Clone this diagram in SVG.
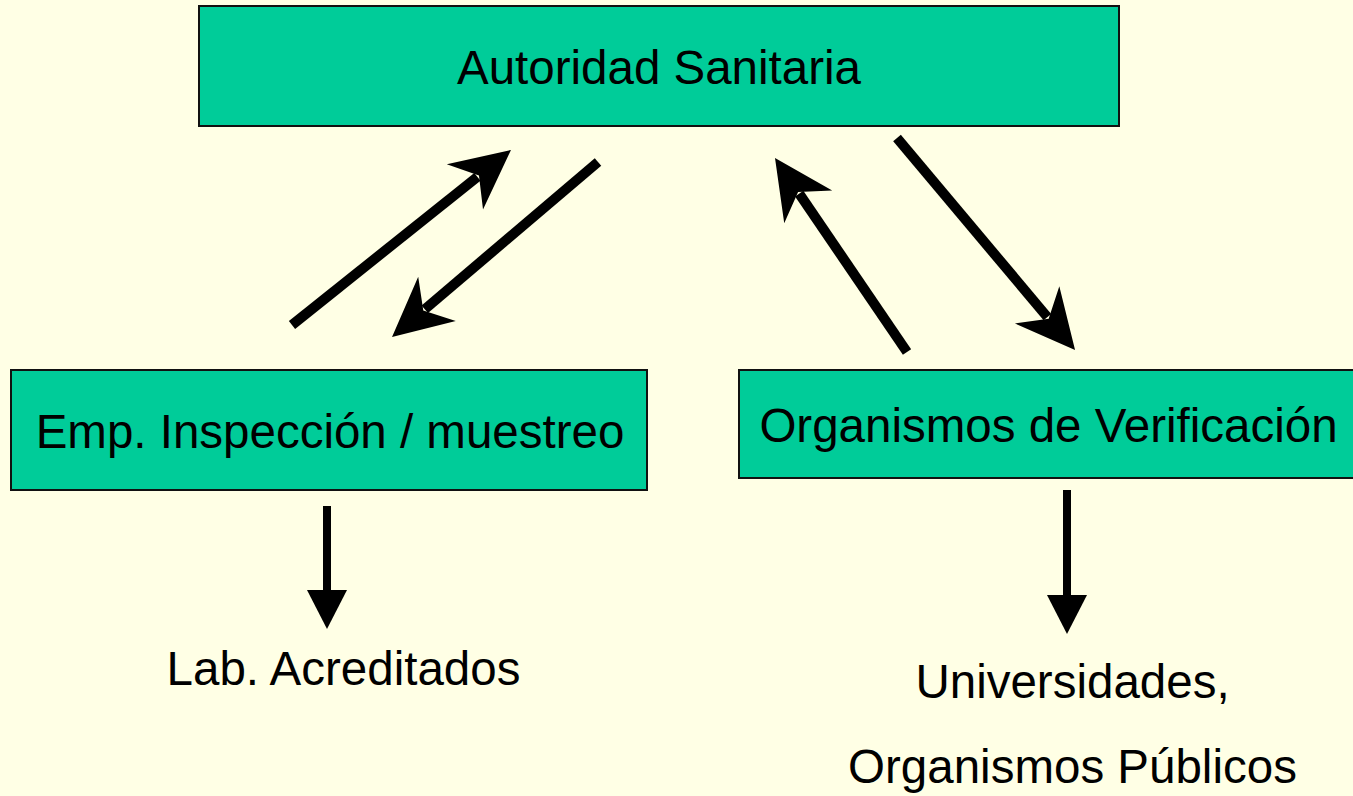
<svg xmlns="http://www.w3.org/2000/svg" width="1353" height="796" viewBox="0 0 1353 796">
  <style>
    .box { fill: #00CC99; stroke: #111111; stroke-width: 2; }
    .lbl { font-family: "Liberation Sans", Arial, sans-serif; font-size: 47.5px; fill: #000000; text-anchor: middle; }
    .diag { stroke: #000000; stroke-width: 10; fill: none; marker-end: url(#stealth); }
    .vert { stroke: #000000; stroke-width: 8; fill: none; marker-end: url(#tri); }
  </style>
  <defs>
    <marker id="stealth" markerUnits="userSpaceOnUse" viewBox="-70 -35 140 70" markerWidth="140" markerHeight="70" refX="-43" refY="0" orient="auto">
      <path d="M0,0 L-59,-29 L-41,0 L-59,29 Z" fill="#000000"/>
    </marker>
    <marker id="tri" markerUnits="userSpaceOnUse" viewBox="-50 -25 100 50" markerWidth="100" markerHeight="50" refX="-36" refY="0" orient="auto">
      <path d="M0,0 L-39,-20 L-39,20 Z" fill="#000000"/>
    </marker>
  </defs>
  <rect x="0" y="0" width="1353" height="796" fill="#FFFFE5"/>

  <g id="autoridad">
    <rect class="box" x="199" y="6" width="920" height="120"/>
    <text class="lbl" x="659" y="84">Autoridad Sanitaria</text>
  </g>
  <g id="emp">
    <rect class="box" x="11" y="370" width="636" height="120"/>
    <text class="lbl" x="330" y="448">Emp. Inspección / muestreo</text>
  </g>
  <g id="organismos">
    <rect class="box" x="739" y="370" width="630" height="108"/>
    <text class="lbl" x="1048.5" y="442">Organismos de Verificación</text>
  </g>
  <g id="lab">
    <text class="lbl" x="343.5" y="685">Lab. Acreditados</text>
  </g>
  <g id="universidades">
    <text class="lbl" x="1072.5" y="698">Universidades,</text>
    <text class="lbl" x="1072.5" y="783">Organismos Públicos</text>
  </g>

  <g id="connectors">
    <line class="diag" x1="292" y1="325" x2="477.4" y2="176.8"/>
    <line class="diag" x1="598" y1="162" x2="424.8" y2="309.2"/>
    <line class="diag" x1="907" y1="352" x2="799.2" y2="193.6"/>
    <line class="diag" x1="897" y1="138" x2="1047.4" y2="317.1"/>
    <line class="vert" x1="327" y1="506" x2="327" y2="593"/>
    <line class="vert" x1="1067" y1="490" x2="1067" y2="598"/>
  </g>
</svg>
